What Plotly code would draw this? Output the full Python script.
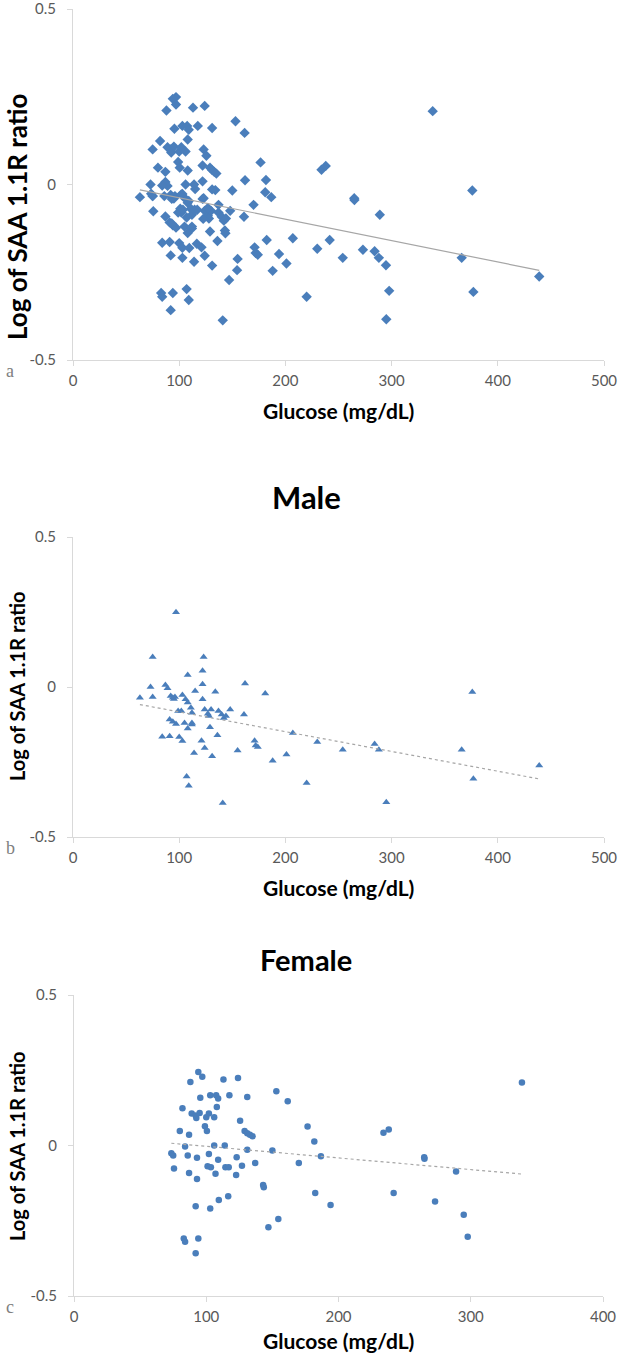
import numpy as np
import plotly.graph_objects as go

# ---- Data ----
male_glucose = [63, 73, 75, 75, 84, 91, 87, 89, 92, 94, 95, 97, 96, 91, 94, 97, 99, 102,
                100, 103, 103, 106, 108, 108, 111, 112, 105, 108, 112, 112, 107, 109, 114,
                115, 121, 122, 123, 122, 122, 124, 124, 127, 128, 130, 129, 131, 134, 136,
                137, 140, 142, 144, 148, 141, 155, 161, 162, 171, 172, 174, 181, 188, 201,
                207, 220, 230, 254, 284, 288, 295, 366, 376, 377, 439]
male_log_ratio = [-0.036, 0.0, 0.10, -0.033, -0.166, -0.164, 0.007, -0.004, -0.03, -0.036,
                  -0.04, 0.249, -0.033, -0.108, -0.116, -0.123, -0.080, -0.08, -0.167, -0.18,
                  -0.027, -0.041, 0.04, -0.052, -0.069, -0.086, -0.12, -0.138, -0.125, -0.12,
                  -0.298, -0.329, -0.22, -0.013, -0.179, 0.054, 0.10, 0.009, -0.041, -0.075,
                  -0.203, -0.089, -0.097, -0.075, -0.134, -0.231, -0.016, -0.161, -0.08,
                  -0.092, -0.103, -0.097, -0.075, -0.387, -0.212, -0.092, 0.012, -0.179,
                  -0.195, -0.20, -0.022, -0.246, -0.225, -0.153, -0.32, -0.183, -0.209,
                  -0.19, -0.209, -0.384, -0.209, -0.017, -0.306, -0.262]

female_glucose = [73.6, 75, 75.6, 80, 82, 84, 86, 87, 87, 88, 89, 92, 92.5, 93, 93, 92, 83,
                  84, 94, 92, 94, 95, 95.5, 97, 99, 100.5, 100, 102, 103, 102, 101, 103.5,
                  103, 106, 106, 107, 107.5, 109, 108, 109, 109.5, 113, 114, 114.5, 117,
                  117.5, 116.6, 122.6, 123, 124, 125.6, 127, 129, 131, 131, 131, 133, 135,
                  137, 143, 143.5, 147, 150, 153, 154.5, 161.6, 170, 176.6, 181.7, 182.4,
                  186.7, 194, 234, 238, 241.7, 264.8, 265, 273, 288.9, 294.7, 297.7, 338.7]
female_log_ratio = [-0.026, -0.033, -0.076, 0.048, 0.124, -0.003, -0.033, 0.036, -0.091,
                    0.211, 0.106, 0.10, 0.091, -0.041, -0.111, -0.202, -0.309, -0.32, -0.309,
                    -0.358, 0.244, 0.108, 0.159, 0.228, 0.064, 0.048, 0.094, 0.106, 0.167,
                    -0.028, -0.069, -0.072, -0.209, 0.0, 0.094, -0.094, 0.167, 0.156, 0.128,
                    -0.047, -0.181, 0.219, 0.0, -0.072, -0.072, 0.167, -0.169, -0.098, -0.039,
                    0.224, 0.082, -0.067, 0.048, 0.041, 0.161, -0.014, 0.036, 0.031, -0.058,
                    -0.131, -0.139, -0.272, -0.017, 0.18, -0.244, 0.147, -0.058, 0.063, 0.013,
                    -0.158, -0.036, -0.198, 0.042, 0.053, -0.158, -0.039, -0.044, -0.186,
                    -0.086, -0.23, -0.303, 0.209]

all_glucose = male_glucose + female_glucose
all_log_ratio = male_log_ratio + female_log_ratio

panel_titles = ["", "Male", "Female"]
panel_letters = ["a", "b", "c"]
x_ranges = [[0, 500], [0, 500], [0, 400]]
y_range = [-0.5, 0.5]

BLUE = "#4A7EBB"
AXIS = "#D9D9D9"
TICKTXT = "#595959"
FONT = "Lato"

W, H = 618, 1359
# plot area pixel boxes (left, right, top, bottom)
boxes = [(73, 604, 9, 360), (73, 604, 537, 837), (74, 603, 995, 1296)]
ytitle_center = [217, 686, 1146]
ytitle_size = [26, 20, 20]
title_center = [0, 497, 959]
title_size = [0, 31, 29]

fig = go.Figure()

series = [
    (all_glucose, all_log_ratio, "diamond", 8, "solid"),
    (male_glucose, male_log_ratio, "triangle-up", 7, "dot"),
    (female_glucose, female_log_ratio, "circle", 6.5, "dot"),
]

annotations = []
for i, ((gx, gy, sym, msz, dash), (l, r, t, b)) in enumerate(zip(series, boxes)):
    n = "" if i == 0 else str(i + 1)
    xa, ya = "x" + n, "y" + n
    fig.add_trace(go.Scatter(x=gx, y=gy, mode="markers", xaxis=xa, yaxis=ya,
                             marker=dict(symbol=sym, size=msz, color=BLUE, line=dict(width=0)),
                             showlegend=False))
    slope, icpt = np.polyfit(gx, gy, 1)
    xl = np.array([min(gx), max(gx)])
    fig.add_trace(go.Scatter(x=xl, y=slope * xl + icpt, mode="lines", xaxis=xa, yaxis=ya,
                             line=dict(color="#A6A6A6", width=1.2, dash=dash),
                             showlegend=False, hoverinfo="skip"))
    axis_common = dict(showline=True, linecolor=AXIS, linewidth=1, ticks="outside",
                       tickcolor=AXIS, ticklen=5, showgrid=False, zeroline=False,
                       automargin=False, ticklabeloverflow="allow",
                       tickfont=dict(family=FONT, size=15, color=TICKTXT))
    fig.layout["xaxis" + n] = dict(domain=[l / W, r / W], range=x_ranges[i], dtick=100,
                                   anchor=ya, ticklabelstandoff=2, **axis_common)
    fig.layout["yaxis" + n] = dict(domain=[1 - b / H, 1 - t / H], range=y_range,
                                   anchor=xa, tickvals=[-0.5, 0, 0.5],
                                   ticktext=["-0.5", "0", "0.5"], ticklabelstandoff=8,
                                   **axis_common)
    # axis titles
    annotations.append(dict(text="<b>Log of SAA 1.1R ratio</b>", xref="paper", yref="paper",
                            x=17 / W, y=1 - ytitle_center[i] / H,
                            xanchor="center", yanchor="middle",
                            textangle=-90, showarrow=False,
                            font=dict(family=FONT, size=ytitle_size[i], color="#000000")))
    annotations.append(dict(text="<b>Glucose (mg/dL)</b>", xref="paper", yref="paper",
                            x=338 / W, y=1 - (b + (50 if i < 2 else 44)) / H,
                            xanchor="center", yanchor="middle", showarrow=False,
                            font=dict(family=FONT, size=21, color="#000000")))
    annotations.append(dict(text=panel_letters[i], xref="paper", yref="paper",
                            x=10 / W, y=1 - (b + 11) / H, xanchor="center",
                            yanchor="middle", showarrow=False,
                            font=dict(family="Liberation Serif", size=18, color="#808080")))
    if panel_titles[i]:
        annotations.append(dict(text="<b>" + panel_titles[i] + "</b>", xref="paper",
                                yref="paper", x=306 / W, y=1 - title_center[i] / H,
                                xanchor="center", yanchor="middle", showarrow=False,
                                font=dict(family=FONT, size=title_size[i], color="#000000")))

fig.update_layout(width=W, height=H, margin=dict(l=0, r=0, t=0, b=0, autoexpand=False),
                  paper_bgcolor="white", plot_bgcolor="white", annotations=annotations)
fig.write_html("out.html", config={"displayModeBar": False},
               post_script="document.body.style.margin='0';document.body.style.overflow='hidden';")
